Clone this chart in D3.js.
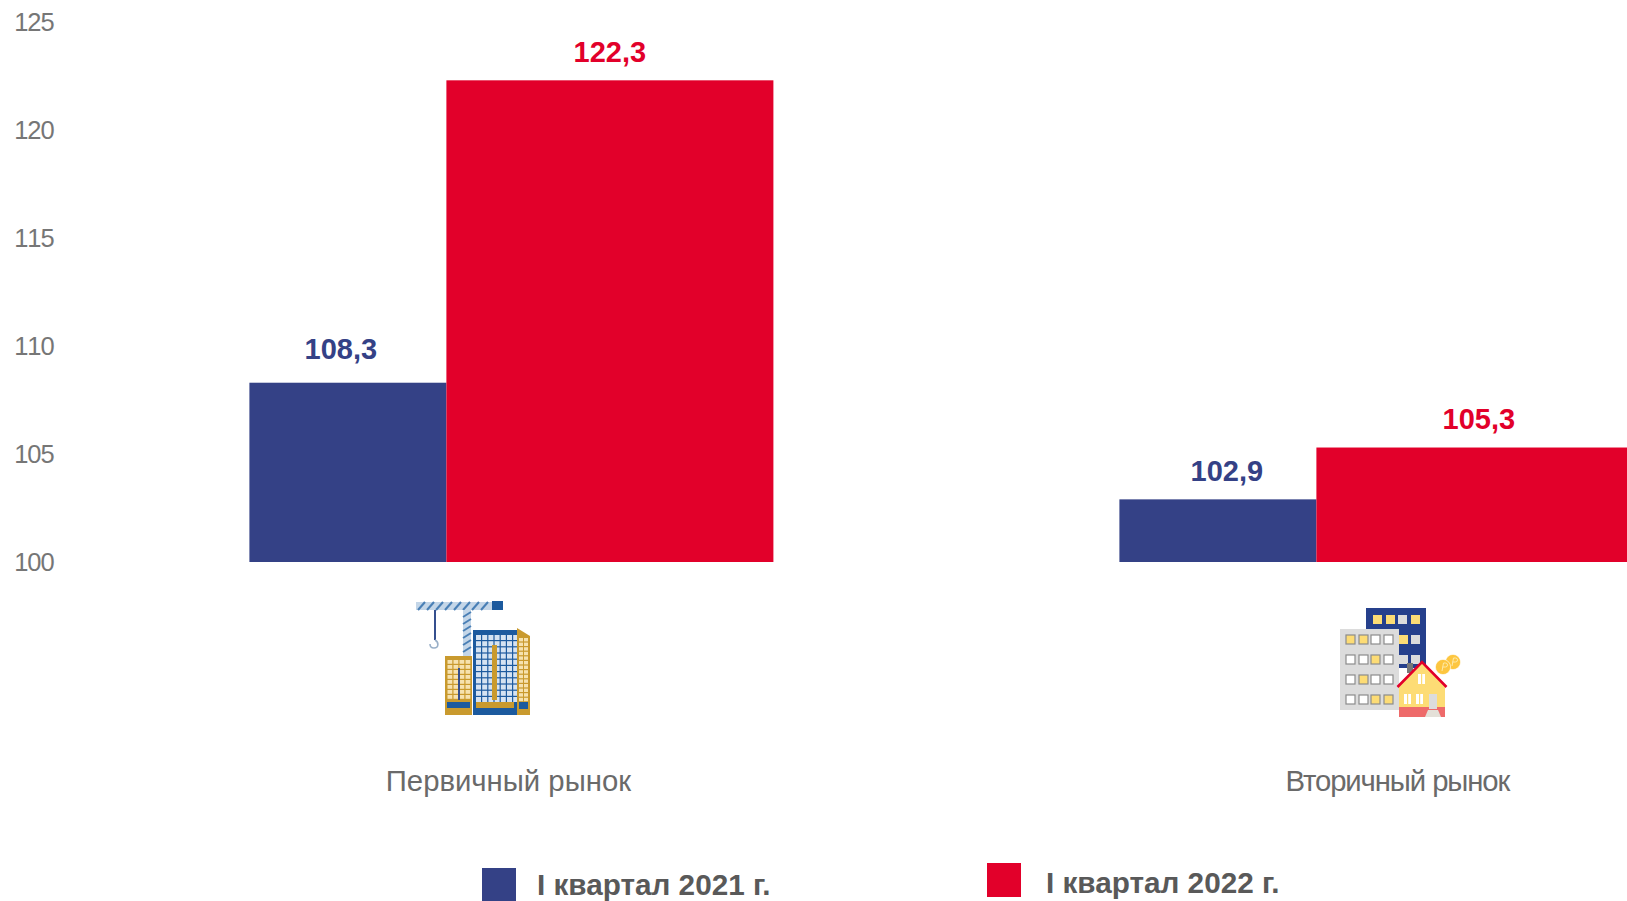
<!DOCTYPE html>
<html>
<head>
<meta charset="utf-8">
<script src="https://d3js.org/d3.v7.min.js"></script>
<style>
  html, body { margin: 0; padding: 0; background: #fff; overflow: hidden; }
  svg { display: block; }
  text { font-family: "Liberation Sans", Arial, sans-serif; }
</style>
</head>
<body>
<div id="chart"></div>
<script>
// Data
var categories = ["Первичный рынок", "Вторичный рынок"];
var seriesNames = ["I квартал 2021 г.", "I квартал 2022 г."];
var values2021 = [108.3, 102.9];
var values2022 = [122.3, 105.3];
var yTicks = [100, 105, 110, 115, 120, 125];

var svgWidth = 1627;
var svgHeight = 901;

var svg = d3.select("#chart")
  .append("svg")
  .attr("width", svgWidth)
  .attr("height", svgHeight);

var defs = svg.append("defs");
defs.append("filter").attr("id", "soft")
  .append("feGaussianBlur").attr("stdDeviation", 0.6);

var blue = "#344186";
var red = "#e2002a";
var grey = "#595959";

// Scales
var yScale = d3.scaleLinear().domain([100, 125]).range([562, 22]);
var xScale = d3.scaleBand().domain(categories).range([249.4, 1989.4]);
var colorScale = d3.scaleOrdinal().domain(seriesNames).range([blue, red]);
var barOffset = d3.scaleOrdinal().domain(seriesNames).range([0, 197]);
var barWidth = d3.scaleOrdinal().domain(seriesNames).range([197, 327]);

// Value labels sit a little off centre in the original
var labelShift = [[-7, 0], [9, -1]];
var labelLift = [[24, 18], [18, 19]];
var categoryCenter = [259, 278];

// Y axis: only the numbers are visible
var leftAxis = d3.axisLeft(yScale).tickValues(yTicks).tickSize(0).tickPadding(0);
var yAxis = svg.append("g")
  .attr("transform", "translate(53.5, 0)")
  .call(leftAxis);
yAxis.select(".domain").remove();
yAxis.selectAll("text")
  .attr("dy", "0.35em")
  .style("font-family", "'Liberation Sans', Arial, sans-serif")
  .style("font-size", "25.5px")
  .style("font-kerning", "none")
  .style("letter-spacing", "-1.1px")
  .attr("fill", "#767676");

// Bars and value labels
var rows = [];
categories.forEach(function(cat, c) {
  rows.push({ cat: cat, c: c, s: 0, name: seriesNames[0], value: values2021[c] });
  rows.push({ cat: cat, c: c, s: 1, name: seriesNames[1], value: values2022[c] });
});

svg.selectAll(".bar")
  .data(rows)
  .enter()
  .append("rect")
  .attr("class", "bar")
  .attr("x", d => xScale(d.cat) + barOffset(d.name))
  .attr("y", d => yScale(d.value))
  .attr("width", d => barWidth(d.name))
  .attr("height", d => yScale(100) - yScale(d.value))
  .attr("fill", d => colorScale(d.name));

svg.selectAll(".valueLabel")
  .data(rows)
  .enter()
  .append("text")
  .attr("class", "valueLabel")
  .attr("x", d => xScale(d.cat) + barOffset(d.name) + barWidth(d.name) / 2 + labelShift[d.c][d.s])
  .attr("y", d => yScale(d.value) - labelLift[d.c][d.s])
  .attr("text-anchor", "middle")
  .attr("font-size", 29)
  .attr("font-weight", "bold")
  .attr("fill", d => colorScale(d.name))
  .text(d => String(d.value).replace(".", ","));

// Category labels
svg.selectAll(".catLabel")
  .data(categories)
  .enter()
  .append("text")
  .attr("class", "catLabel")
  .attr("x", (d, i) => xScale(d) + categoryCenter[i])
  .attr("y", 791)
  .attr("text-anchor", "middle")
  .attr("font-size", 29.3)
  .attr("fill", "#6a6a6a")
  .style("letter-spacing", (d, i) => i === 0 ? "0px" : "-1.1px")
  .text(d => d);

// Legend
var legendBox = [[482, 868, 901, 537, 895], [987, 863, 897, 1046, 893]];
seriesNames.forEach(function(name, i) {
  var b = legendBox[i];
  svg.append("rect")
    .attr("x", b[0]).attr("y", b[1])
    .attr("width", 34).attr("height", b[2] - b[1])
    .attr("fill", colorScale(name));
  svg.append("text")
    .attr("x", b[3]).attr("y", b[4])
    .attr("font-size", 29.7)
    .attr("font-weight", "bold")
    .attr("fill", grey)
    .text(name);
});

// Icons are decoration, drawn in their own local pixel coordinates
function box(g, x, y, w, h, fill) {
  return g.append("rect").attr("x", x).attr("y", y).attr("width", w).attr("height", h).attr("fill", fill);
}

function drawCrane() {
  var g = svg.append("g").attr("transform", "translate(380, 570)").attr("filter", "url(#soft)");
  var gold = "#c99a2e", pale = "#f6e2ae", deep = "#1f5a9e", sky = "#d5e3f2";
  // jib
  box(g, 36, 32, 76, 8, "#c4d6e8");
  d3.range(38, 108, 9).forEach(function(x) {
    g.append("line").attr("x1", x).attr("y1", 40).attr("x2", x + 7).attr("y2", 32)
      .attr("stroke", "#4a7fb5").attr("stroke-width", 2);
  });
  box(g, 112, 31, 11, 9, "#1f5a9e");
  // mast
  box(g, 83, 40, 8, 46, "#c4d6e8");
  d3.range(42, 84, 7).forEach(function(y) {
    g.append("line").attr("x1", 83).attr("y1", y + 5).attr("x2", 91).attr("y2", y)
      .attr("stroke", "#4a7fb5").attr("stroke-width", 2);
  });
  // hook
  box(g, 54, 40, 2, 30, "#34508e");
  g.append("path").attr("d", "M55 70 C59 72 59 78 54 78 C51 78 50 76 50 74")
    .attr("fill", "none").attr("stroke", "#9ab0c8").attr("stroke-width", 1.6);
  // left block
  box(g, 65, 86, 27, 59, gold);
  d3.range(67.5, 90, 6).forEach(function(x) {
    d3.range(90, 130, 5).forEach(function(y) {
      box(g, x, y, 4.8, 3.8, pale);
    });
  });
  box(g, 78, 98, 2, 32, "#34508e");
  box(g, 67, 132, 23, 6, deep);
  // middle block
  box(g, 93, 60, 44, 85, deep);
  d3.range(96, 134, 6.2).forEach(function(x) {
    d3.range(65, 130, 6.2).forEach(function(y) {
      box(g, x, y, 5, 5, sky);
    });
  });
  box(g, 112, 75, 5, 55, gold);
  box(g, 96, 132, 38, 6, gold);
  // right side
  g.append("path").attr("d", "M137 58 L150 66 L150 145 L137 145 Z").attr("fill", gold);
  d3.range(139, 149, 5).forEach(function(x) {
    d3.range(68, 130, 4.6).forEach(function(y) {
      box(g, x, y, 4, 3.4, pale);
    });
  });
  box(g, 139, 132, 9, 7, deep);
}

function drawHouse() {
  var g = svg.append("g").attr("transform", "translate(1300, 590)").attr("filter", "url(#soft)");
  var yellow = "#fddc74", white = "#fff", lightGrey = "#dcdcdc", navy = "#25408c";
  function win(x, y, fill) {
    box(g, x, y, 9, 9, fill).attr("stroke", "#8c8c8c").attr("stroke-width", 1.2);
  }
  // blue tower
  box(g, 66, 18, 60, 60, navy);
  [[73, yellow], [86, yellow], [98, lightGrey], [111, yellow]].forEach(function(w) {
    box(g, w[0], 25, 9, 9, w[1]);
  });
  box(g, 99, 45, 9, 9, yellow);
  box(g, 111, 45, 9, 9, lightGrey);
  box(g, 99, 65, 9, 9, lightGrey);
  box(g, 111, 65, 9, 9, lightGrey);
  box(g, 107, 73, 6, 10, "#777");
  // grey block
  box(g, 40, 39, 59, 81, lightGrey);
  var cols = [46, 59, 71, 84];
  var rowsY = [45, 65, 85, 105];
  var fills = [
    [yellow, yellow, white, white],
    [white, white, yellow, white],
    [white, yellow, white, white],
    [white, white, yellow, yellow]
  ];
  rowsY.forEach(function(y, r) {
    cols.forEach(function(x, c) { win(x, y, fills[r][c]); });
  });
  // coins
  [[153, 72], [143, 77]].forEach(function(p) {
    g.append("circle").attr("cx", p[0]).attr("cy", p[1]).attr("r", 7.6)
      .attr("fill", "#fdc63f").attr("stroke", "#fff").attr("stroke-width", 0.6);
    g.append("path").attr("d", "M" + (p[0] - 1) + " " + (p[1] + 4) + " l1.5 -8 h2 a2 2 0 0 1 0 4 h-3")
      .attr("fill", "none").attr("stroke", "#fde9a8").attr("stroke-width", 1);
  });
  // house
  g.append("path").attr("d", "M99 96 L122 73 L145 96 L145 127 L99 127 Z").attr("fill", yellow);
  box(g, 99, 117, 46, 10, "#ee6b6b");
  g.append("path").attr("d", "M97.5 97 L122 72 L146.5 97")
    .attr("fill", "none").attr("stroke", red).attr("stroke-width", 2.6);
  [[118, 84], [104, 104], [116, 104]].forEach(function(w) {
    box(g, w[0], w[1], 7, 10, white);
    box(g, w[0] + 3, w[1], 1.2, 10, yellow);
  });
  box(g, 129, 104, 8, 15, lightGrey);
  g.append("path").attr("d", "M128 120 h10 l3 7 h-16 Z").attr("fill", "#e4e0d8");
}

drawCrane();
drawHouse();
</script>
</body>
</html>
